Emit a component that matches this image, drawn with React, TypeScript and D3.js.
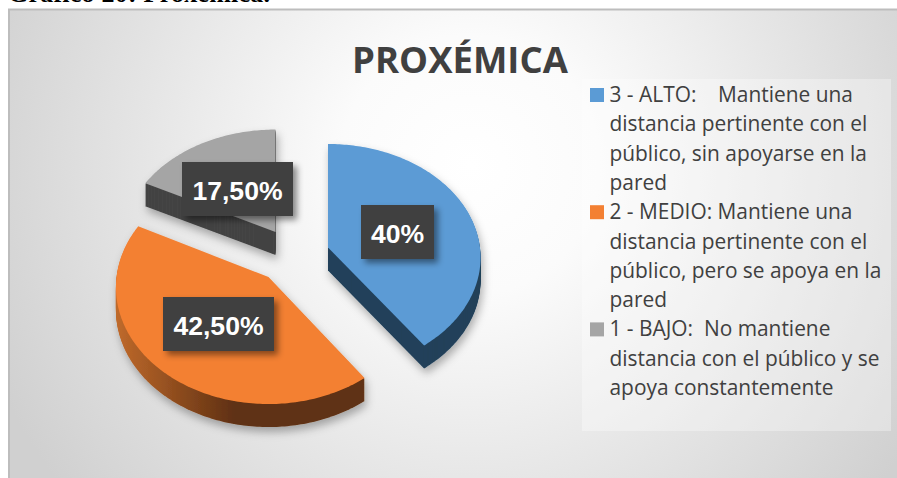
import React from "react";
import * as d3 from "d3";

const W = 897;
const H = 478;

const categories = ["3 - ALTO", "2 - MEDIO", "1 - BAJO"];
const values = [40, 42.5, 17.5];
const valueLabels = ["40%", "42,50%", "17,50%"];
const topColors = ["#5b9bd5", "#f38033", "#a5a5a5"];
const wallColors = ["#21405a", "url(#orangeWall)", "#444444"];
const titleText = "PROXÉMICA";
const captionText = "Gráfico 20: Proxémica.";
const legendLines = [
  ["3 - ALTO:    Mantiene una", "distancia pertinente con el", "público, sin apoyarse en la", "pared"],
  ["2 - MEDIO: Mantiene una", "distancia pertinente con el", "público, pero se apoya en la", "pared"],
  ["1 - BAJO:  No mantiene", "distancia con el público y se", "apoya constantemente"],
];

// layout of each exploded slice
const apexes = [
  [328, 247.5],
  [268.5, 277],
  [275.5, 232],
];
const squash = [0.97, 1, 0.96];
const labelBoxes = [
  [361, 205, 73, 54],
  [163, 297, 111, 54],
  [182, 162, 111, 54],
];
const RX = 152;
const RY = 116;
const PERSP = 0.087;
const DEPTH = 23;

function project(theta: number): [number, number] {
  const u = Math.sin(theta);
  const v = -Math.cos(theta);
  const s = 1 / (1 - PERSP * v);
  return [RX * u * s, RY * v * s];
}

const arcs = d3.pie<number>().sort(null)(values);
const line = d3.line();

function slicePath(a: d3.PieArcDatum<number>, cx: number, cy: number, k: number) {
  const n = Math.ceil((a.endAngle - a.startAngle) * 60);
  const angle = d3.scaleLinear().domain([0, n]).range([a.startAngle, a.endAngle]);
  const pts: [number, number][] = d3.range(n + 1).map((i) => {
    const [x, y] = project(angle(i));
    return [cx + x, cy + y * k];
  });
  return line([[cx, cy], ...pts, [cx, cy]]) + "Z";
}

export default function App() {
  const legendRows: { text: string; y: number; first: boolean; color: string }[] = [];
  let row = 0;
  legendLines.forEach((lines, c) =>
    lines.forEach((text, i) => {
      legendRows.push({ text, y: 102 + row * 29.3, first: i === 0, color: topColors[c] });
      row += 1;
    })
  );
  return (
    <svg
      width={W}
      height={H}
      viewBox={`0 0 ${W} ${H}`}
      style={{ position: "absolute", left: 0, top: 0, display: "block" }}
    >
      <defs>
        <radialGradient id="bg" gradientUnits="userSpaceOnUse" cx={470} cy={165} r={520}>
          <stop offset="0" stopColor="#ffffff" />
          <stop offset="0.25" stopColor="#fbfbfb" />
          <stop offset="1" stopColor="#d0d0d0" />
        </radialGradient>
        <linearGradient id="orangeWall" gradientUnits="userSpaceOnUse" x1={115} x2={235} y1={0} y2={0}>
          <stop offset="0" stopColor="#c06a2b" />
          <stop offset="1" stopColor="#5f3012" />
        </linearGradient>
        <filter id="sliceShadow" x="-20%" y="-20%" width="140%" height="140%">
          <feDropShadow dx={2} dy={5} stdDeviation={4} floodColor="#000" floodOpacity={0.3} />
        </filter>
        <filter id="labelShadow" x="-30%" y="-30%" width="160%" height="170%">
          <feDropShadow dx={4} dy={4} stdDeviation={3} floodColor="#000" floodOpacity={0.45} />
        </filter>
      </defs>

      <text
        x={8}
        y={2}
        fontFamily="'Liberation Serif', serif"
        fontSize={26}
        fontWeight={700}
        textLength={262}
        fill="#000"
      >
        {captionText}
      </text>

      <rect x={9} y={9.5} width={W} height={H} fill="url(#bg)" stroke="#bdbdbd" strokeWidth={2} />

      <text
        x={460}
        y={73}
        textAnchor="middle"
        fontFamily="'Open Sans', sans-serif"
        fontWeight={700}
        fontSize={36.5}
        fill="#404040"
      >
        {titleText}
      </text>

      <rect x={582} y={79} width={309} height={352} fill="#ffffff" fillOpacity={0.32} />
      {legendRows.map((r, i) => (
        <g key={i}>
          {r.first && <rect x={590} y={r.y - 14} width={14} height={14} fill={r.color} />}
          <text
            x={609.5}
            y={r.y}
            xmlSpace="preserve"
            style={{ whiteSpace: "pre" }}
            fontFamily="'Open Sans', sans-serif"
            fontSize={20.9}
            fill="#404040"
          >
            {r.text}
          </text>
        </g>
      ))}

      {arcs.map((a, i) => {
        const [cx, cy] = apexes[i];
        return (
          <g key={categories[i]} filter="url(#sliceShadow)">
            {d3.range(DEPTH, 0, -1).map((d) => (
              <path key={d} d={slicePath(a, cx, cy + d, squash[i])} fill={wallColors[i]} />
            ))}
            <path d={slicePath(a, cx, cy, squash[i])} fill={topColors[i]} />
          </g>
        );
      })}

      {labelBoxes.map(([x, y, w, h], i) => (
        <g key={i}>
          <rect x={x} y={y} width={w} height={h} fill="#404040" filter="url(#labelShadow)" />
          <text
            x={x + w / 2}
            y={y + h / 2 + 10.5}
            textAnchor="middle"
            fontFamily="'Liberation Sans', Arial, sans-serif"
            fontWeight={700}
            fontSize={26.6}
            fill="#ffffff"
          >
            {valueLabels[i]}
          </text>
        </g>
      ))}
    </svg>
  );
}
